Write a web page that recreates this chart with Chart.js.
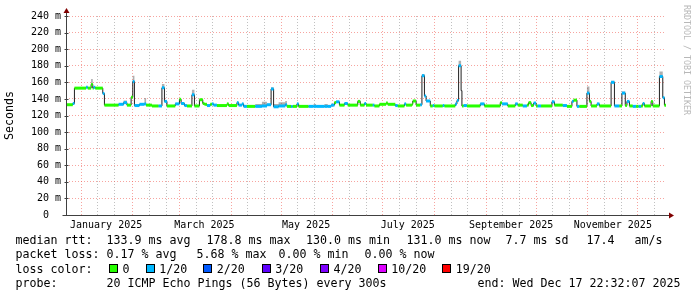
<!DOCTYPE html>
<html>
<head>
<meta charset="utf-8">
<title>smokeping rtt</title>
<script src="https://cdn.jsdelivr.net/npm/chart.js@4/dist/chart.umd.min.js"></script>
<style>
html, body { margin: 0; padding: 0; background: #fff; }
#wrap { position: relative; width: 697px; height: 297px; overflow: hidden; }
#chart { position: absolute; left: 0; top: 0; }
.lg { position: absolute; font-family: "DejaVu Sans Mono", monospace; font-size: 11.63px; line-height: 14px; white-space: pre; color: #000; }
.box { position: absolute; width: 7px; height: 7px; border: 1px solid #000; }
#wm { position: absolute; left: 682px; top: 5px; writing-mode: vertical-rl; font-family: "DejaVu Sans Mono", monospace; font-size: 8.3px; color: #b8b8b8; white-space: pre; }
</style>
</head>
<body>
<div id="wrap">
  <canvas id="chart" width="697" height="297"></canvas>
  <div id="wm">RRDTOOL / TOBI OETIKER</div>
  <div id="legend"></div>
</div>
<script>
// time axis: days since 2025-01-01, graph covers the last 360 days
var xMin = -9.06;
var xMax = 350.94;

// month starts in 2025 (day numbers) and the labelled months
var monthStarts = [0, 31, 59, 90, 120, 151, 181, 212, 243, 273, 304, 334];
var labelMonths = ["January 2025", "March 2025", "May 2025", "July 2025", "September 2025", "November 2025"];
var labelMonthIdx = [0, 2, 4, 6, 8, 10];

// y ticks (ms)
var yMax = 240;
var yStep = 20;

// median rtt, one entry per step: start day, median ms, loss class, smoke top (ms)
var stepDay = [-9, -5, -4, 3, 4, 6, 7, 7.5, 8.5, 13, 14, 22.5, 25.5, 27.5, 30, 31, 32, 35, 38, 39,
  42.5, 46.5, 48.5, 50, 51.5, 56.5, 59, 60, 62, 63.5, 66.5, 68, 71, 73, 74, 75.5, 77.5, 78.5, 79.5, 81.5,
  87.5, 88.5, 93.5, 94.5, 96.5, 97.5, 99.5, 104.5, 108.5, 111.5, 114, 115.5, 118.5, 122.5, 123.5, 126, 127, 129.5, 130.5, 136.5,
  139.5, 141, 146, 148, 150, 152, 153, 155, 158, 160, 166, 167.5, 170, 171, 175, 176, 179, 183, 184, 188.5,
  190, 194, 195, 198.5, 199, 201, 203.5, 204.5, 206, 207, 209.5, 211, 212, 217, 218, 224.5, 225.5, 226.5, 228, 228.5,
  229.5, 231.5, 239.5, 242, 251.5, 252.5, 256, 260.5, 262, 265, 267.5, 268.5, 270, 271.5, 273, 274, 276, 282.5, 284, 289,
  291.5, 294.5, 295.5, 297.5, 299, 303.5, 305, 306, 309.5, 311, 318, 320, 323, 324.5, 326.5, 327.5, 329, 331, 333, 334.5,
  336, 337, 338, 342, 343, 347, 349, 350];
var medianMs = [133, 134.5, 153, 154, 153, 157.5, 153, 154, 153, 146.5, 132.5, 133.5, 135.5, 132.5, 142, 161, 132, 133.5, 134, 132.5,
  131.5, 131.5, 153.5, 137, 131.5, 134, 139.5, 134.5, 132, 131.5, 145, 131.5, 139, 134.5, 133.5, 132, 133.5, 134, 132.5, 132,
  134, 132, 135.5, 132.5, 134, 131, 131, 131, 131.5, 133, 152, 130.5, 131.5, 133, 131, 131, 131, 134, 131, 131,
  131, 131, 131, 131, 132.5, 135.5, 136.5, 132.5, 134.5, 132.5, 137, 132.5, 134.5, 132.5, 132.5, 131.5, 133.5, 135, 133.5, 132,
  131.5, 134, 132.5, 133.5, 137.5, 132.5, 133, 168, 143.5, 137.5, 131.5, 132, 131.5, 132, 131.5, 134, 138, 180, 150, 131.5,
  132, 131.5, 134, 131.5, 135.5, 134, 131.5, 134, 132.5, 131.5, 132.5, 135.5, 132, 135, 131.5, 131.5, 131.5, 136.5, 132.5, 132,
  131, 137, 138.5, 131, 131, 147, 137, 131.5, 134, 131.5, 160, 131.5, 131.5, 147, 132, 137, 131.5, 131, 131, 131,
  131.5, 134.5, 131.5, 137, 131.5, 167, 141.5, 132.5];
// loss class: 0 = 0, 1 = 1/20, 2 = 2/20 ...
var lossIdx = [0, 1, 0, 1, 0, 0, 0, 1, 0, 1, 0, 1, 1, 0, 0, 1, 1, 1, 1, 0,
  0, 1, 1, 1, 0, 1, 0, 1, 1, 0, 1, 0, 0, 0, 0, 1, 0, 1, 1, 0,
  0, 0, 1, 1, 1, 1, 0, 1, 1, 1, 1, 1, 1, 1, 0, 1, 0, 1, 0, 1,
  1, 1, 1, 1, 1, 0, 1, 0, 1, 0, 0, 0, 1, 0, 1, 0, 0, 0, 0, 1,
  0, 1, 0, 0, 0, 0, 1, 1, 1, 1, 0, 1, 0, 1, 0, 1, 1, 1, 1, 0,
  1, 0, 1, 0, 0, 1, 0, 1, 0, 1, 0, 0, 0, 1, 0, 1, 0, 1, 0, 1,
  0, 1, 0, 1, 0, 1, 0, 0, 1, 0, 1, 1, 0, 1, 0, 1, 0, 1, 0, 1,
  0, 1, 0, 0, 0, 1, 1, 0];
var smokeTop = [null, null, null, null, null, 164, null, null, null, null, null, null, 138, null, null, 168, null, null, 141, null,
  null, null, 158, null, null, null, null, null, null, null, 151, null, null, null, null, null, null, null, null, null,
  null, null, null, null, null, null, null, 134, 136.5, null, 154, 134, 136, 137.5, null, null, null, null, null, null,
  134, null, 134, null, null, 137, null, null, null, null, null, null, null, null, null, null, null, null, null, null,
  null, null, null, null, null, null, null, 170, null, null, null, null, null, null, null, null, null, 186, null, null,
  null, null, null, null, null, null, null, null, null, null, null, null, null, null, null, null, null, null, null, null,
  null, null, null, null, null, 155, null, null, null, null, 162, null, null, 149, null, null, null, null, null, null,
  null, null, null, null, null, 173, null, null];

var lossColors = ["#26ff00", "#00b8ff", "#0059ff", "#5e00ff", "#7e00ff", "#dd00ff", "#ff0000"];
var lossNames = ["0", "1/20", "2/20", "3/20", "4/20", "10/20", "19/20"];

var monoFont = "DejaVu Sans Mono";

//build the datasets out of the step arrays
var colorPairs = [];
var blackLine = [];
var smokeLine = [];
stepDay.forEach(function (d, i) {
  var end = i + 1 < stepDay.length ? stepDay[i + 1] : xMax;
  colorPairs.push({ x: d, y: medianMs[i] }, { x: end, y: medianMs[i] });
  blackLine.push({ x: d, y: medianMs[i] });
  smokeLine.push({ x: d, y: smokeTop[i] === null ? medianMs[i] : smokeTop[i] });
});
blackLine.push({ x: xMax, y: medianMs[medianMs.length - 1] });
smokeLine.push({ x: xMax, y: medianMs[medianMs.length - 1] });

//x ticks: month starts (major), 11th and 21st (minor), labels at mid month
var xTicks = [];
monthStarts.forEach(function (m, i) {
  xTicks.push({ value: m, kind: "major" });
  [10, 20].forEach(function (o) {
    if (m + o < xMax) xTicks.push({ value: m + o, kind: "minor" });
  });
});
labelMonthIdx.forEach(function (mi, i) {
  xTicks.push({ value: monthStarts[mi] + 15, kind: "label", text: labelMonths[i] });
});
xTicks.sort(function (a, b) { return a.value - b.value; });

var majorColor = "rgba(240,90,80,0.55)";
var minorColor = "rgba(140,140,140,0.55)";

//axis lines and arrows, drawn like rrdtool
var axisPlugin = {
  id: "axes",
  afterDraw: function (chart) {
    var ctx = chart.ctx;
    var a = chart.chartArea;
    var y = chart.scales.y;
    var x0 = Math.round(a.left) + 0.5;
    var y0 = Math.round(a.bottom) + 0.5;
    ctx.save();
    ctx.strokeStyle = "#404040";
    ctx.lineWidth = 1;
    ctx.beginPath();
    ctx.moveTo(x0, y0);
    ctx.lineTo(x0, a.top - 4);
    ctx.moveTo(x0 - 4, y0);
    ctx.lineTo(a.right + 4, y0);
    for (var v = 0; v <= yMax; v += yStep) {
      var py = Math.round(y.getPixelForValue(v)) + 0.5;
      ctx.moveTo(x0 - 2, py);
      ctx.lineTo(x0 + 2, py);
    }
    ctx.stroke();
    ctx.fillStyle = "#800000";
    ctx.beginPath();
    ctx.moveTo(x0 - 3, a.top - 3);
    ctx.lineTo(x0 + 3, a.top - 3);
    ctx.lineTo(x0, a.top - 8);
    ctx.closePath();
    ctx.fill();
    ctx.beginPath();
    ctx.moveTo(a.right + 3, y0 - 3);
    ctx.lineTo(a.right + 3, y0 + 3);
    ctx.lineTo(a.right + 8, y0);
    ctx.closePath();
    ctx.fill();
    ctx.restore();
  },
};

new Chart(document.getElementById("chart"), {
  type: "line",
  data: {
    datasets: [
      {
        data: colorPairs,
        borderWidth: 3,
        borderCapStyle: "butt",
        pointRadius: 0,
        borderColor: lossColors[0],
        segment: {
          borderColor: function (c) {
            return c.p0DataIndex % 2 === 0 ? lossColors[lossIdx[c.p0DataIndex / 2]] : "rgba(0,0,0,0)";
          },
        },
      },
      {
        data: blackLine,
        stepped: true,
        borderWidth: 1,
        borderColor: "#202020",
        pointRadius: 0,
      },
      {
        data: smokeLine,
        stepped: true,
        borderWidth: 0,
        borderColor: "rgba(0,0,0,0)",
        backgroundColor: "rgba(110,110,110,0.55)",
        pointRadius: 0,
        fill: 1,
      },
    ],
  },
  options: {
    responsive: false,
    animation: false,
    devicePixelRatio: 1,
    layout: { padding: { left: 0, top: 16, right: 31, bottom: 62 } },
    plugins: { legend: { display: false }, tooltip: { enabled: false } },
    scales: {
      x: {
        type: "linear",
        min: xMin,
        max: xMax,
        afterBuildTicks: function (scale) {
          scale.ticks = xTicks.map(function (t) { return { value: t.value, kind: t.kind, text: t.text }; });
        },
        afterFit: function (scale) { scale.height = 20; },
        ticks: {
          autoSkip: false,
          maxRotation: 0,
          padding: 4,
          color: "#000",
          font: { family: monoFont, size: 10 },
          callback: function (v, i) { return xTicks[i].kind === "label" ? xTicks[i].text : ""; },
        },
        grid: {
          drawTicks: false,
          lineWidth: 1,
          color: function (c) {
            var t = xTicks[c.index];
            if (!t || t.kind === "label") return "rgba(0,0,0,0)";
            return t.kind === "major" ? majorColor : minorColor;
          },
        },
        border: { display: false, dash: [1, 2] },
      },
      y: {
        min: 0,
        max: yMax,
        afterFit: function (scale) { scale.width = 66; },
        ticks: {
          stepSize: yStep / 2,
          padding: 5,
          color: "#000",
          font: { family: monoFont, size: 10 },
          callback: function (v) {
            if (v % yStep !== 0) return "";
            return v === 0 ? "0  " : v + " m";
          },
        },
        grid: {
          drawTicks: false,
          lineWidth: 1,
          color: function (c) { return c.tick.value % yStep === 0 ? majorColor : minorColor; },
        },
        border: { display: false, dash: [1, 2] },
        title: {
          display: true,
          text: "Seconds",
          color: "#000",
          font: { family: monoFont, size: 11.63 },
          padding: { top: 3, bottom: 0 },
        },
      },
    },
  },
  plugins: [axisPlugin],
});

//legend rows under the graph
var rowTop = [233.3, 247.4, 261.6, 275.7];
var rows = [
  [[15.5, "median rtt:"], [106.5, "133.9 ms avg"], [206.5, "178.8 ms max"], [306, "130.0 ms min"], [406.5, "131.0 ms now"], [505.5, "7.7 ms sd"], [586.5, "17.4"], [634.5, "am/s"]],
  [[15.5, "packet loss:"], [106.5, "0.17 % avg"], [196.5, "5.68 % max"], [278.5, "0.00 % min"], [364.5, "0.00 % now"]],
  [[15.5, "loss color:"]],
  [[15.5, "probe:"], [106.5, "20 ICMP Echo Pings (56 Bytes) every 300s"], [477.5, "end: Wed Dec 17 22:32:07 2025"]],
];
var boxLeft = [109, 145.7, 203.3, 261.7, 320, 377.7, 442.3];

var legend = document.getElementById("legend");
rows.forEach(function (row, r) {
  row.forEach(function (item) {
    var d = document.createElement("div");
    d.className = "lg";
    d.style.left = item[0] + "px";
    d.style.top = rowTop[r] + "px";
    d.textContent = item[1];
    legend.appendChild(d);
  });
});
lossNames.forEach(function (name, i) {
  var b = document.createElement("div");
  b.className = "box";
  b.style.left = boxLeft[i] + "px";
  b.style.top = "264px";
  b.style.background = lossColors[i];
  legend.appendChild(b);
  var t = document.createElement("div");
  t.className = "lg";
  t.style.left = boxLeft[i] + 13.5 + "px";
  t.style.top = rowTop[2] + "px";
  t.textContent = name;
  legend.appendChild(t);
});
</script>
</body>
</html>
